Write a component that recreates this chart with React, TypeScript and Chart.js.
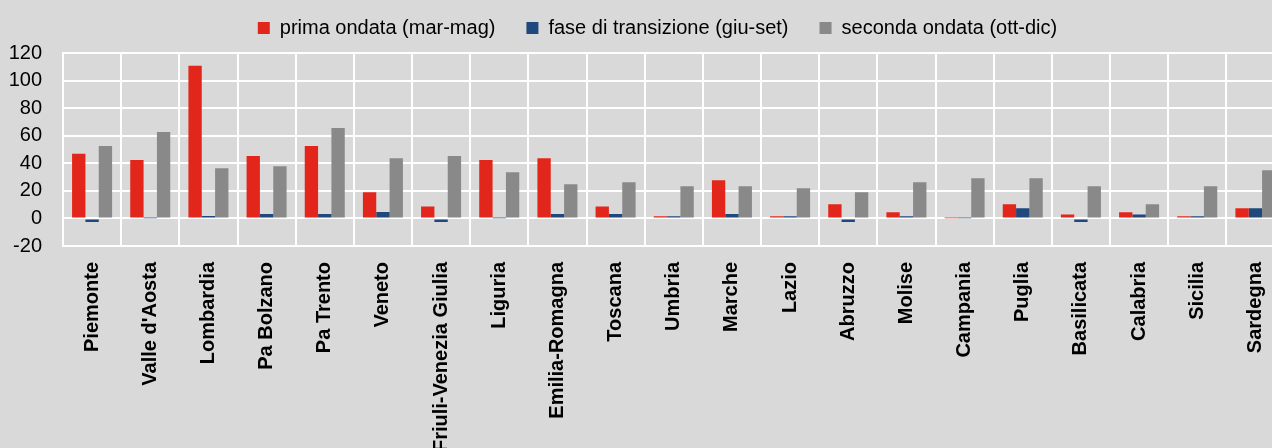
import { useEffect, useRef } from "react";
import { Chart, registerables } from "chart.js";

Chart.register(...registerables);

const regions = [
  "Piemonte", "Valle d'Aosta", "Lombardia", "Pa Bolzano", "Pa Trento", "Veneto",
  "Friuli-Venezia Giulia", "Liguria", "Emilia-Romagna", "Toscana", "Umbria", "Marche",
  "Lazio", "Abruzzo", "Molise", "Campania", "Puglia", "Basilicata", "Calabria",
  "Sicilia", "Sardegna",
];

const seriesNames = [
  "prima ondata (mar-mag)",
  "fase di transizione (giu-set)",
  "seconda ondata (ott-dic)",
];

const primaOndata = [47, 42.3, 110.8, 45.2, 52.5, 18.9, 8.7, 42.3, 43.7, 8.7, 1.5, 27.7, 1.5, 10.2, 4.4, 0.2, 10.2, 2.9, 4.4, 1.5, 7.3];
const faseTransizione = [-2.5, 0.2, 1.7, 3.2, 3.2, 4.6, -2.5, 0.2, 3.2, 3.2, 1.5, 3.2, 1.5, -2.5, 1.5, 0.2, 7.3, -2.5, 2.9, 1.5, 7.3];
const secondaOndata = [52.5, 62.7, 36.4, 37.9, 65.6, 43.7, 45.2, 33.5, 24.8, 26.2, 23.3, 23.3, 21.9, 18.9, 26.2, 29.1, 29.1, 23.3, 10.2, 23.3, 35];

const yTicks = [-20, 0, 20, 40, 60, 80, 100, 120];

const seriesColors = ["#E3261B", "#1F497D", "#898989"];

const FONT = "'Liberation Sans', Arial, sans-serif";

const legendPlugin = {
  id: "legendTweak",
  beforeLayout(chart: any) {
    const lg = chart.legend;
    if (lg && !lg.__patched) {
      const orig = lg.fit.bind(lg);
      lg.fit = function () {
        orig();
        this.height = 66;
      };
      lg.__patched = true;
    }
  },
  afterLayout(chart: any) {
    const lg = chart.legend;
    if (lg) {
      lg.left += 15.25;
      lg.right += 15.25;
    }
  },
};

export default function App() {
  const canvasRef = useRef<HTMLCanvasElement | null>(null);

  useEffect(() => {
    const canvas = canvasRef.current;
    if (!canvas) return;
    const values = [primaOndata, faseTransizione, secondaOndata];
    const chart = new Chart(canvas, {
      type: "bar",
      data: {
        labels: regions,
        datasets: seriesNames.map((name, i) => ({
          label: name,
          data: values[i],
          backgroundColor: seriesColors[i],
          borderWidth: 0,
          categoryPercentage: 0.688,
          barPercentage: 1,
        })),
      },
      options: {
        responsive: false,
        animation: false,
        devicePixelRatio: 1,
        layout: { padding: { top: -13, left: 0, right: 30.5, bottom: 0 } },
        plugins: {
          legend: {
            display: true,
            position: "top",
            labels: {
              boxWidth: 12,
              boxHeight: 12,
              padding: 31,
              color: "#000",
              font: { family: FONT, size: 20 },
            },
          },
          tooltip: { enabled: false },
        },
        scales: {
          x: {
            grid: { color: "#ffffff", lineWidth: 2, drawTicks: false, offset: true },
            border: { display: true, color: "#ffffff", width: 2 },
            ticks: {
              autoSkip: false,
              minRotation: 90,
              maxRotation: 90,
              padding: 16,
              color: "#000",
              font: { family: FONT, size: 20, weight: "bold" },
            },
            afterFit: (s: any) => {
              s.height = 202;
            },
          },
          y: {
            min: yTicks[0],
            max: yTicks[yTicks.length - 1],
            grid: { color: "#ffffff", lineWidth: 2, drawTicks: false },
            border: { display: true, color: "#ffffff", width: 2 },
            ticks: {
              stepSize: yTicks[1] - yTicks[0],
              autoSkip: false,
              padding: 21,
              color: "#000",
              font: { family: FONT, size: 20 },
            },
            afterFit: (s: any) => {
              s.width = 63;
            },
          },
        },
      },
      plugins: [legendPlugin],
    } as any);
    return () => chart.destroy();
  }, []);

  return (
    <div
      style={{
        position: "fixed",
        left: 0,
        top: 0,
        width: 1272,
        height: 448,
        overflow: "hidden",
        background: "#d9d9d9",
      }}
    >
      <div style={{ position: "relative", width: 1315, height: 448 }}>
        <canvas ref={canvasRef} width={1315} height={448} style={{ display: "block" }} />
      </div>
    </div>
  );
}
